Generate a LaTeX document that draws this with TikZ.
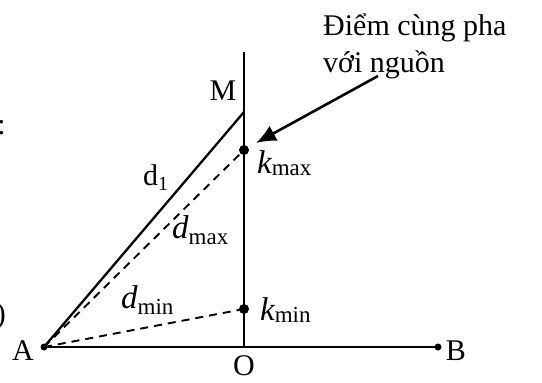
\documentclass[tikz,border=0pt]{standalone}
\usepackage{fontspec}
\setmainfont{Liberation Serif}
\usetikzlibrary{arrows.meta}
\newcommand{\lbl}[3]{{\fontsize{33}{33}\selectfont\itshape #1}\raisebox{-#3pt}{\fontsize{23}{23}\selectfont #2}}
\begin{document}
\begin{tikzpicture}[x=1pt,y=-1pt,
  lab/.style={font=\fontsize{30}{30}\selectfont, inner sep=0pt, anchor=base},
  line/.style={line width=2.3pt},
  dsh/.style={line width=1.9pt, dash pattern=on 8pt off 6pt},
  bigdot/.style={circle, fill=black, inner sep=0pt, minimum size=10pt},
  smalldot/.style={circle, fill=black, inner sep=0pt, minimum size=7pt}]
\useasboundingbox (0,0) rectangle (542,383);
\clip (0,0) rectangle (542,383);
% points
\coordinate (A) at (44,347);
\coordinate (B) at (438,347);
\coordinate (O) at (244,347);
\coordinate (T) at (244,52);
\coordinate (M) at (244,112);
\coordinate (K1) at (244,150);
\coordinate (K2) at (244,309);
\coordinate (tail) at (378,76);
\coordinate (tip) at (256,143);
% lines
\draw[line] (A) -- (B);
\draw[line] (O) -- (T);
\draw[line] (A) -- (M);
\draw[dsh] (A) -- (K1);
\draw[dsh] (A) -- (K2);
\draw[line width=2.6pt, -{Latex[length=20pt,width=17pt]}] (tail) -- (tip);
% dots
\node[smalldot] (dA) at (A) {};
\node[smalldot] (dB) at (B) {};
\node[bigdot] (dK1) at (K1) {};
\node[bigdot] (dK2) at (K2) {};
% labels
\node[lab] (lM) at (223,100) {M};
\node[lab] (lA) at (23,360) {A};
\node[lab] (lB) at (456,360) {B};
\node[lab] (lO) at (244,375) {O};
\node[lab, anchor=base west] (ld1) at (143,185) {d\raisebox{-5pt}{\fontsize{20}{20}\selectfont 1}};
\node[lab, anchor=base west] (ldmax) at (172,238) {\lbl{d}{max}{6}};
\node[lab, anchor=base west] (ldmin) at (121,308) {\lbl{d}{min}{6}};
\node[lab, anchor=base west] (lkmax) at (257,173) {\lbl{k}{max}{2}};
\node[lab, anchor=base west] (lkmin) at (260,320) {\lbl{k}{min}{2}};
\node[lab, anchor=base west] (t1) at (323,35) {Điểm cùng pha};
\node[lab, anchor=base west] (t2) at (323,72) {với nguồn};
% cropped fragments at left edge
\node[lab, anchor=base east] (f1) at (6,134) {:};
\node[lab, anchor=base east] (f2) at (6,323) {)};
\end{tikzpicture}
\end{document}
